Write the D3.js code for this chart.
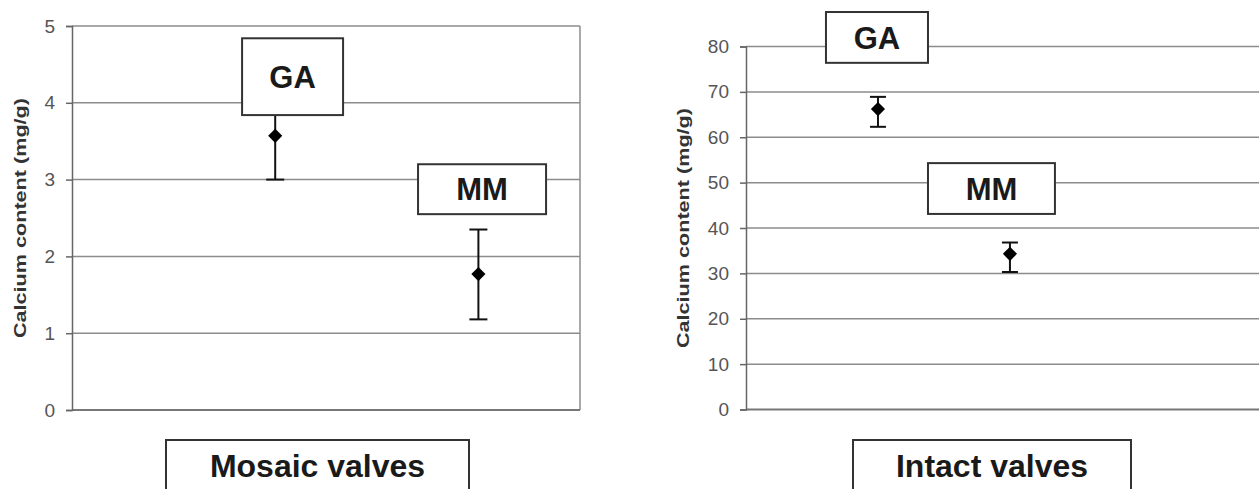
<!DOCTYPE html>
<html>
<head>
<meta charset="utf-8">
<script src="https://cdn.jsdelivr.net/npm/d3@7"></script>
<style>
  body { margin: 0; background: #fff; }
  svg { display: block; font-family: "Liberation Sans", Arial, sans-serif; }
</style>
</head>
<body>
<div id="chart"></div>
<script>
// data
const groups = ["GA", "MM"];
const mosaicMean = [3.57, 1.77];
const mosaicLow = [3.0, 1.18];
const mosaicHigh = [4.15, 2.35];
const intactMean = [66.2, 34.3];
const intactLow = [62.3, 30.3];
const intactHigh = [68.9, 36.8];
const mosaicTicks = [0, 1, 2, 3, 4, 5];
const intactTicks = [0, 10, 20, 30, 40, 50, 60, 70, 80];
const yTitle = "Calcium content (mg/g)";

const svg = d3.select('#chart')
    .append('svg')
    .attr('width', 1259)
    .attr('height', 489);

// one panel per valve type
const panels = [{
    title: "Mosaic valves",
    mean: mosaicMean, low: mosaicLow, high: mosaicHigh, ticks: mosaicTicks,
    left: 72, right: 580, top: 26, bottom: 410, xMax: 2.5, yMax: 5,
    rightBorder: true, cap: 18, titleX: [166, 469], yTitleX: 20,
    // label boxes in data units: [x0, x1, yTop, yBottom]
    boxes: [[0.837, 1.334, 4.84, 3.84], [1.703, 2.333, 3.20, 2.55]]
}, {
    title: "Intact valves",
    mean: intactMean, low: intactLow, high: intactHigh, ticks: intactTicks,
    left: 746, right: 1262, top: 46.5, bottom: 409.5, xMax: 3.91, yMax: 80,
    rightBorder: false, cap: 16, titleX: [853, 1131], yTitleX: 683,
    boxes: [[0.606, 1.379, 87.6, 76.4], [1.379, 2.341, 54.3, 43.1]]
}];

panels.forEach(function (p) {
    const x = d3.scaleLinear().domain([0, p.xMax]).range([p.left, p.right]);
    const y = d3.scaleLinear().domain([0, p.yMax]).range([p.bottom, p.top]);
    const g = svg.append('g');

    // gridlines
    g.selectAll('.grid')
        .data(p.ticks.filter(function (t) { return t > 0; }))
        .join('line')
        .attr('x1', p.left).attr('x2', p.right)
        .attr('y1', function (d) { return y(d); })
        .attr('y2', function (d) { return y(d); })
        .attr('stroke', '#8c8c8c')
        .attr('stroke-width', 1.5);

    if (p.rightBorder) {
        g.append('line')
            .attr('x1', p.right).attr('x2', p.right)
            .attr('y1', p.top).attr('y2', p.bottom)
            .attr('stroke', '#8c8c8c').attr('stroke-width', 1.5);
    }

    // x baseline
    g.append('line')
        .attr('x1', p.left).attr('x2', p.right)
        .attr('y1', p.bottom).attr('y2', p.bottom)
        .attr('stroke', '#777').attr('stroke-width', 2);

    // y axis
    const yAxis = g.append('g')
        .attr('transform', `translate(${p.left},0)`)
        .call(d3.axisLeft(y).tickValues(p.ticks).tickFormat(d3.format('d'))
            .tickSize(6).tickPadding(11));
    yAxis.select('.domain').attr('stroke', '#666').attr('stroke-width', 1.5);
    yAxis.selectAll('.tick line').attr('stroke', '#666').attr('stroke-width', 1.5);
    yAxis.selectAll('.tick text')
        .attr('fill', '#555')
        .attr('font-size', '19px')
        .attr('font-family', '"Liberation Sans", Arial, sans-serif');

    g.append('text')
        .attr('transform', `translate(${p.yTitleX},${(p.top + p.bottom) / 2}) rotate(-90)`)
        .attr('text-anchor', 'middle')
        .attr('dy', '0.35em')
        .attr('font-size', '17px')
        .attr('font-weight', 'bold')
        .attr('fill', '#333')
        .attr('textLength', 240)
        .attr('lengthAdjust', 'spacingAndGlyphs')
        .text(yTitle);

    // error bars
    const idx = d3.range(groups.length);
    g.selectAll('.err')
        .data(idx)
        .join('line')
        .attr('x1', function (i) { return x(i + 1); })
        .attr('x2', function (i) { return x(i + 1); })
        .attr('y1', function (i) { return y(p.low[i]); })
        .attr('y2', function (i) { return y(p.high[i]); })
        .attr('stroke', '#111').attr('stroke-width', 2);
    [p.low, p.high].forEach(function (arr) {
        g.selectAll(null)
            .data(idx)
            .join('line')
            .attr('x1', function (i) { return x(i + 1) - p.cap / 2; })
            .attr('x2', function (i) { return x(i + 1) + p.cap / 2; })
            .attr('y1', function (i) { return y(arr[i]); })
            .attr('y2', function (i) { return y(arr[i]); })
            .attr('stroke', '#111').attr('stroke-width', 2);
    });

    // diamonds
    g.selectAll('.pt')
        .data(idx)
        .join('path')
        .attr('d', d3.symbol(d3.symbolSquare, 100))
        .attr('transform', function (i) {
            return `translate(${x(i + 1)},${y(p.mean[i])}) rotate(45)`;
        })
        .attr('fill', '#000');

    // group label boxes
    const boxes = g.selectAll('.box')
        .data(p.boxes)
        .join('g');
    boxes.append('rect')
        .attr('x', function (b) { return x(b[0]); })
        .attr('y', function (b) { return y(b[2]); })
        .attr('width', function (b) { return x(b[1]) - x(b[0]); })
        .attr('height', function (b) { return y(b[3]) - y(b[2]); })
        .attr('fill', '#fff')
        .attr('stroke', '#333')
        .attr('stroke-width', 2);
    boxes.append('text')
        .attr('x', function (b) { return (x(b[0]) + x(b[1])) / 2; })
        .attr('y', function (b) { return (y(b[2]) + y(b[3])) / 2; })
        .attr('dy', '0.36em')
        .attr('text-anchor', 'middle')
        .attr('font-size', '31px')
        .attr('font-weight', 'bold')
        .attr('fill', '#1a1a1a')
        .text(function (b, i) { return groups[i]; });

    // panel title box
    g.append('rect')
        .attr('x', p.titleX[0]).attr('y', 440)
        .attr('width', p.titleX[1] - p.titleX[0]).attr('height', 60)
        .attr('fill', '#fff').attr('stroke', '#333').attr('stroke-width', 2);
    g.append('text')
        .attr('x', (p.titleX[0] + p.titleX[1]) / 2)
        .attr('y', 477)
        .attr('text-anchor', 'middle')
        .attr('font-size', '32px')
        .attr('font-weight', 'bold')
        .attr('fill', '#1a1a1a')
        .text(p.title);
});
</script>
</body>
</html>
